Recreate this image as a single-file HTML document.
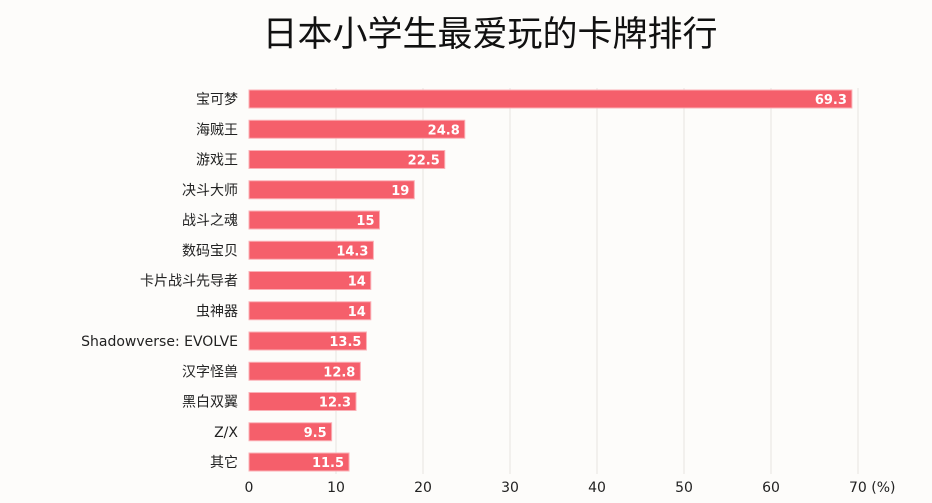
<!DOCTYPE html>
<html><head><meta charset="utf-8"><style>
body{margin:0;background:#fdfcfa;font-family:"Liberation Sans","Noto Sans CJK SC",sans-serif}
</style></head><body>
<svg width="932" height="498" id="c">
<text x="490" y="46" text-anchor="middle" font-size="35" fill="#111" font-family="Liberation Sans, Noto Sans CJK SC, sans-serif">日本小学生最爱玩的卡牌排行</text>
</svg>
<script>
const categories=["宝可梦","海贼王","游戏王","决斗大师","战斗之魂","数码宝贝","卡片战斗先导者","虫神器","Shadowverse: EVOLVE","汉字怪兽","黑白双翼","Z/X","其它"];
const values=[69.3,24.8,22.5,19,15,14.3,14,14,13.5,12.8,12.3,9.5,11.5];
const ticks=[0,10,20,30,40,50,60,70];
const svg=document.getElementById('c');
const NS="http://www.w3.org/2000/svg";
const x=v=>249+v*8.7;
const y=i=>99+i*30.25;
function mk(t,a){const e=document.createElementNS(NS,t);for(const k in a)e.setAttribute(k,a[k]);svg.appendChild(e);return e;}
ticks.forEach(t=>{
 if(t>0){const g=mk('line',{x1:x(t),x2:x(t),y1:88,y2:474,stroke:'#e6e4e0','stroke-width':1});
 
 }
 const l=mk('text',{x:x(t),y:492,'text-anchor':'middle','font-size':14,fill:'#222','font-family':'DejaVu Sans, sans-serif'});
 l.textContent=t+(t===70?' (%)':'');
 if(t===70){l.setAttribute('text-anchor','start');l.setAttribute('x',x(t)-9);}
 
 
});
categories.forEach((c,i)=>{
 const r=mk('rect',{x:x(0),y:y(i)-9,width:x(values[i])-x(0),height:18,fill:'#f55f6b',stroke:'#fbb0b6','stroke-width':1});
 
 
 const v=mk('text',{x:x(values[i])-5,y:y(i)+5,'text-anchor':'end','font-size':13,'font-weight':'bold',fill:'#fff','font-family':'DejaVu Sans, sans-serif'});
 v.textContent=values[i];
 
 
 const l=mk('text',{x:238,y:y(i)+5,'text-anchor':'end','font-size':14,fill:'#222','font-family':'DejaVu Sans, Noto Sans CJK SC, sans-serif'});
 l.textContent=c;
 
 
});
</script>
</body></html>
